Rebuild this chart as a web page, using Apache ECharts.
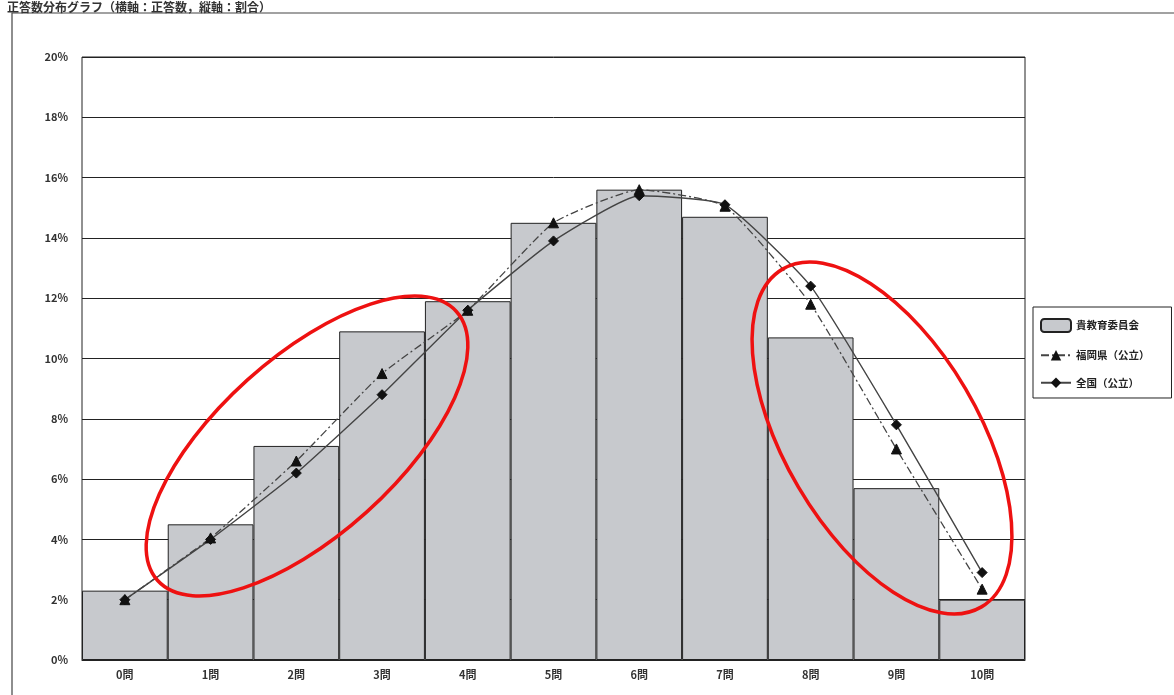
<!DOCTYPE html>
<html><head><meta charset="utf-8">
<script src="https://cdn.jsdelivr.net/npm/echarts@6/dist/echarts.min.js"></script>
<style>html,body{margin:0;padding:0;background:#fff}#c{width:1174px;height:695px}</style>
</head><body><div id="c"></div>
<script>
const categories = ['0問','1問','2問','3問','4問','5問','6問','7問','8問','9問','10問'];
const boardValues = [2.3, 4.5, 7.1, 10.9, 11.9, 14.5, 15.6, 14.7, 10.7, 5.7, 2.0];
const fukuokaValues = [2.0, 4.05, 6.6, 9.5, 11.6, 14.5, 15.6, 15.05, 11.8, 7.0, 2.35];
const nationalValues = [2.0, 4.0, 6.2, 8.8, 11.6, 13.9, 15.4, 15.1, 12.4, 7.8, 2.9];
const seriesNames = ['貴教育委員会', '福岡県（公立）', '全国（公立）'];
const titleText = '正答数分布グラフ（横軸：正答数，縦軸：割合）';

const FONT = '"Noto Sans CJK JP", "Noto Sans", sans-serif';
const chart = echarts.init(document.getElementById('c'));
chart.setOption({
  animation: false,
  backgroundColor: '#fff',
  textStyle: {fontFamily: FONT},
  title: {text: titleText, left: 2, top: -4, textStyle: {fontSize: 12, fontWeight: 'bold', color: '#333', fontFamily: FONT}},
  grid: {left: 82, right: 149, top: 57, bottom: 35, show: true, borderColor: '#222', borderWidth: 1},
  legend: {
    orient: 'vertical', left: 1033, top: 307,
    padding: [11, 22, 10, 7], itemGap: 17,
    borderColor: '#222', borderWidth: 1,
    itemWidth: 30, itemHeight: 13,
    textStyle: {fontSize: 10.5, color: '#222', fontWeight: 'bold', fontFamily: FONT},
    data: seriesNames
  },
  xAxis: {
    type: 'category', data: categories,
    axisLine: {lineStyle: {color: '#222'}},
    axisTick: {show: false},
    axisLabel: {fontSize: 11, color: '#333', fontWeight: 'bold', margin: 9}
  },
  yAxis: {
    type: 'value', min: 0, max: 20, interval: 2,
    axisLine: {show: false}, axisTick: {show: false},
    axisLabel: {formatter: '{value}%', fontSize: 11, color: '#333', fontWeight: 'bold', margin: 14},
    splitLine: {lineStyle: {color: '#222', width: 1}}
  },
  series: [
    {name: seriesNames[0], type: 'bar', data: boardValues, barCategoryGap: '0%',
     itemStyle: {color: '#c7c9cd', borderColor: '#222', borderWidth: 1}},
    {name: seriesNames[1], type: 'line', data: fukuokaValues, smooth: 0.15,
     symbol: 'triangle', symbolSize: 10,
     lineStyle: {color: '#444', width: 1.3, type: [8, 3, 2, 3]},
     itemStyle: {color: '#111', borderColor: '#111'}},
    {name: seriesNames[2], type: 'line', data: nationalValues, smooth: 0.15,
     symbol: 'diamond', symbolSize: 10,
     lineStyle: {color: '#444', width: 1.4},
     itemStyle: {color: '#111', borderColor: '#111'}}
  ],
  graphic: [
    {type: 'rect', shape: {x: 12, y: 13, width: 1180, height: 700}, style: {fill: 'none', stroke: '#444', lineWidth: 1.2}, z: 0, silent: true},
    {type: 'ellipse', x: 307, y: 446, rotation: 42 * Math.PI / 180, shape: {cx: 0, cy: 0, rx: 201, ry: 89},
     style: {fill: 'none', stroke: '#ee1111', lineWidth: 3.5}, z: 100},
    {type: 'ellipse', x: 882, y: 438, rotation: -59.5 * Math.PI / 180, shape: {cx: 0, cy: 0, rx: 196, ry: 97},
     style: {fill: 'none', stroke: '#ee1111', lineWidth: 3.5}, z: 100}
  ]
});
</script></body></html>
